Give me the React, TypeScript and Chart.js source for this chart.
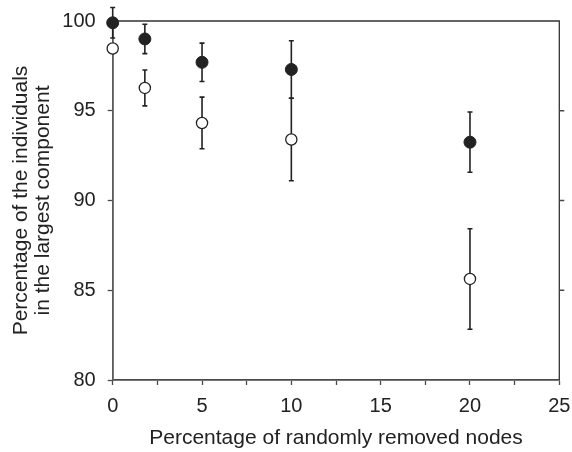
import React, { useEffect, useRef } from 'react';
import { Chart, registerables } from 'chart.js';

Chart.register(...registerables);

// Percentage of randomly removed nodes (x positions)
const removedPct = [0, 1.8, 5, 10, 20];
// Filled circles: mean and error (half-length of bar)
const filledMean = [99.9, 99.0, 97.7, 97.3, 93.25];
const filledErr = [0.85, 0.82, 1.07, 1.6, 1.68];
// Open circles: mean and error
const hollowMean = [98.47, 96.27, 94.32, 93.4, 85.63];
const hollowErr = [0, 1.0, 1.44, 2.3, 2.8];

const xTicksMajor = [0, 5, 10, 15, 20, 25];
const yTicks = [80, 85, 90, 95, 100];
const rightTicks = [85, 90, 95];

const FONT = "'Liberation Sans', Arial, Helvetica, sans-serif";
const INK = '#222';
const AXIS = '#4a4a4a';

export default function App() {
  const ref = useRef<HTMLCanvasElement>(null);

  useEffect(() => {
    document.body.style.margin = '0';
    const canvas = ref.current!;

    const frame = {
      id: 'frame',
      beforeDatasetsDraw(chart: any) {
        const { ctx, chartArea: a, scales } = chart;
        const y = scales.y;
        ctx.save();
        ctx.strokeStyle = '#333';
        ctx.lineWidth = 1.3;
        ctx.beginPath();
        ctx.moveTo(a.left, a.top);
        ctx.lineTo(a.right, a.top);
        ctx.lineTo(a.right, a.bottom);
        ctx.stroke();
        ctx.strokeStyle = AXIS;
        ctx.lineWidth = 1.3;
        ctx.beginPath();
        rightTicks.forEach((v) => {
          const py = y.getPixelForValue(v);
          ctx.moveTo(a.right, py);
          ctx.lineTo(a.right + 5, py);
        });
        ctx.stroke();
        ctx.restore();
      },
    };

    const errorBars = {
      id: 'errorBars',
      beforeDatasetsDraw(chart: any) {
        const { ctx, scales } = chart;
        const x = scales.x;
        const y = scales.y;
        ctx.save();
        ctx.strokeStyle = INK;
        ctx.lineWidth = 1.6;
        const sets: [number[], number[]][] = [
          [filledMean, filledErr],
          [hollowMean, hollowErr],
        ];
        sets.forEach(([m, e]) => {
          removedPct.forEach((xv, i) => {
            if (!e[i]) return;
            const px = x.getPixelForValue(xv);
            const top = y.getPixelForValue(m[i] + e[i]);
            const bot = y.getPixelForValue(m[i] - e[i]);
            ctx.beginPath();
            ctx.moveTo(px, top);
            ctx.lineTo(px, bot);
            ctx.moveTo(px - 2.5, top);
            ctx.lineTo(px + 2.5, top);
            ctx.moveTo(px - 2.5, bot);
            ctx.lineTo(px + 2.5, bot);
            ctx.stroke();
          });
        });
        ctx.restore();
      },
    };

    const chart = new Chart(canvas, {
      type: 'scatter',
      data: {
        datasets: [
          {
            label: 'filled',
            data: removedPct.map((xv, i) => ({ x: xv, y: filledMean[i] })),
            pointRadius: 6,
            pointBackgroundColor: INK,
            pointBorderColor: INK,
            pointBorderWidth: 1,
            clip: false as any,
          },
          {
            label: 'open',
            data: removedPct.map((xv, i) => ({ x: xv, y: hollowMean[i] })),
            pointRadius: 5.6,
            pointBackgroundColor: '#fff',
            pointBorderColor: INK,
            pointBorderWidth: 1.3,
            clip: false as any,
          },
        ],
      },
      options: {
        animation: false,
        responsive: false,
        devicePixelRatio: 1,
        layout: { padding: { top: 21, right: 12.7, left: 0, bottom: 0 } },
        plugins: {
          legend: { display: false },
          tooltip: { enabled: false },
        },
        scales: {
          x: {
            type: 'linear',
            min: 0,
            max: 25,
            afterFit: (s: any) => {
              s.height = 72;
              s.paddingLeft = 0;
              s.paddingRight = 0;
            },
            afterBuildTicks: (s: any) => {
              const t: any[] = [];
              for (let v = 0; v <= 25; v += 2.5) t.push({ value: v });
              s.ticks = t;
            },
            ticks: {
              autoSkip: false,
              maxRotation: 0,
              padding: 9,
              color: INK,
              font: { family: FONT, size: 20 },
              callback: (v: any) => (xTicksMajor.includes(Number(v)) ? String(v) : ''),
            },
            grid: {
              display: true,
              drawOnChartArea: false,
              drawTicks: true,
              tickLength: 5,
              tickColor: AXIS,
              tickWidth: 1.3,
            },
            border: { display: true, color: AXIS, width: 1.8 },
            title: {
              display: true,
              text: 'Percentage of randomly removed nodes',
              color: INK,
              font: { family: FONT, size: 21 },
              padding: { top: 4, bottom: 1 },
            },
          },
          y: {
            type: 'linear',
            min: 80,
            max: 100,
            afterFit: (s: any) => {
              s.width = 112.7;
              s.paddingTop = 0;
              s.paddingBottom = 0;
            },
            afterBuildTicks: (s: any) => {
              s.ticks = yTicks.map((v) => ({ value: v }));
            },
            ticks: {
              padding: 12,
              color: INK,
              font: { family: FONT, size: 20 },
            },
            grid: {
              display: true,
              drawOnChartArea: false,
              drawTicks: true,
              tickLength: 5,
              tickColor: AXIS,
              tickWidth: 1.3,
            },
            border: { display: true, color: '#5a5a5a', width: 1.8 },
            title: {
              display: true,
              text: ['Percentage of the individuals', 'in the largest component'],
              color: INK,
              font: { family: FONT, size: 21, lineHeight: 1.05 },
              padding: { top: 10, bottom: 4 },
            },
          },
        },
      },
      plugins: [frame, errorBars],
    });

    return () => chart.destroy();
  }, []);

  return (
    <div style={{ width: 572, height: 452 }}>
      <canvas ref={ref} width={572} height={452} style={{ display: 'block' }} />
    </div>
  );
}
